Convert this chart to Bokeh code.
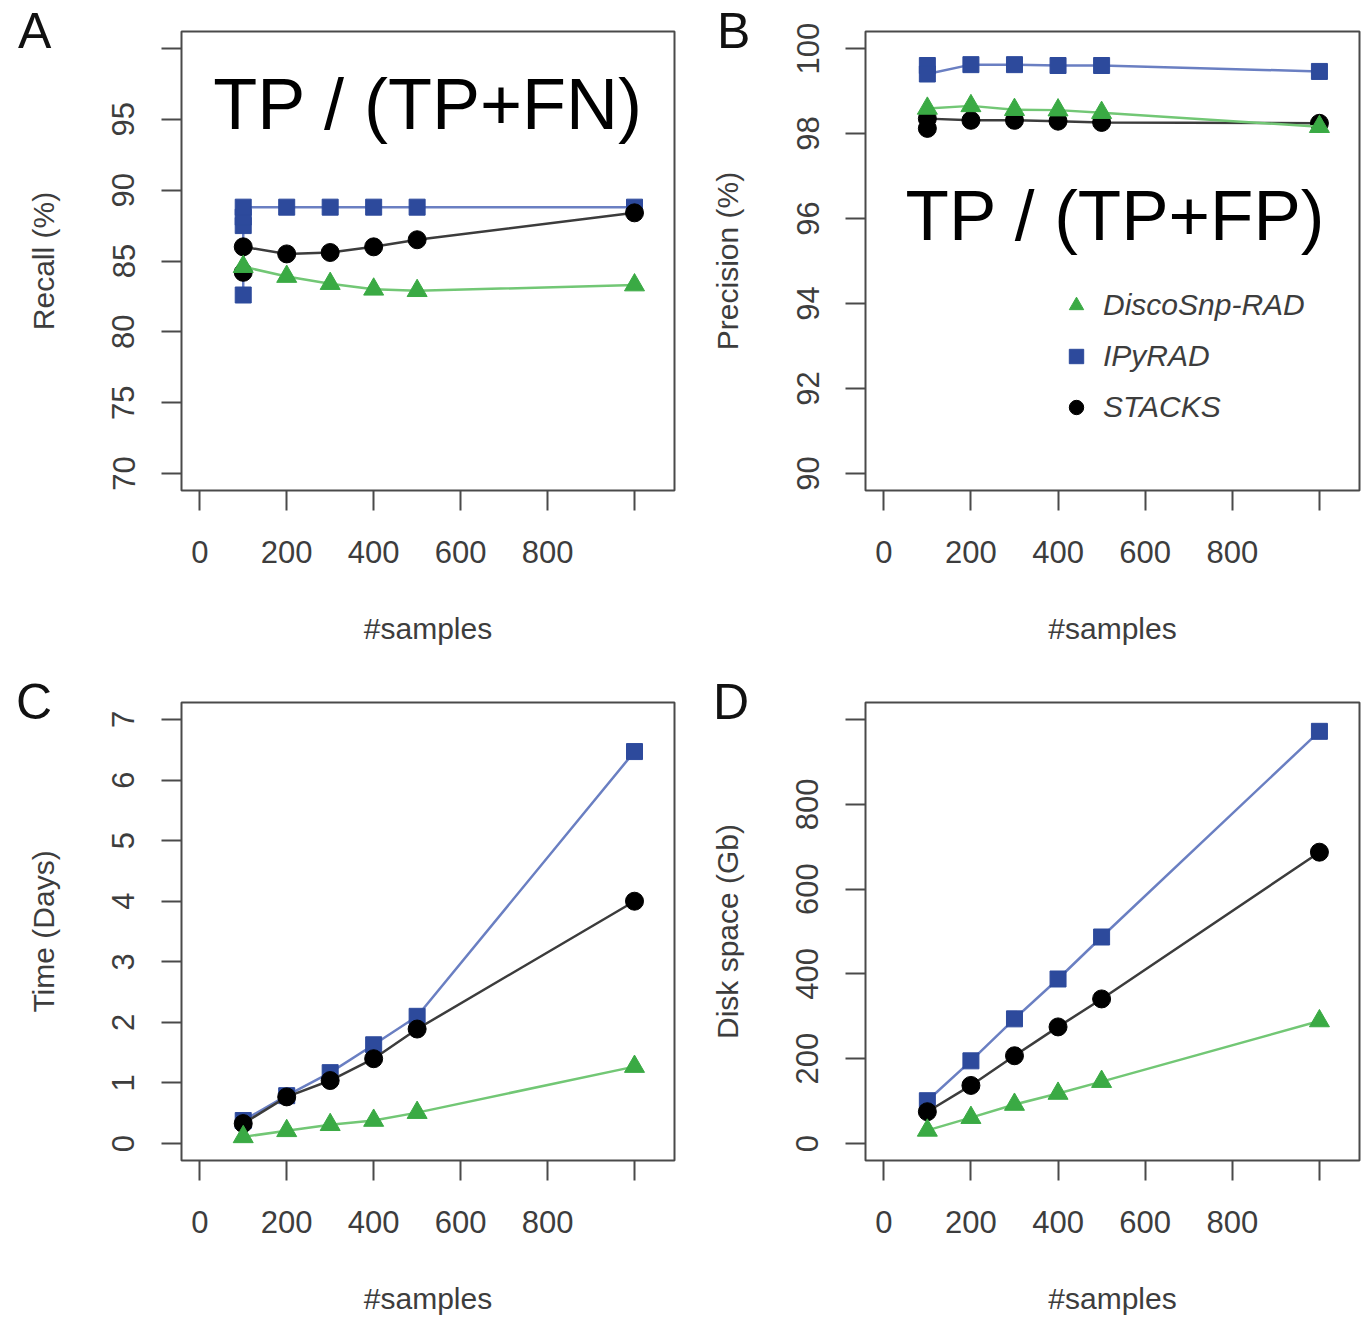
from bokeh.plotting import figure
from bokeh.layouts import column, row
from bokeh.models import FixedTicker, Range1d, Label, Legend, LegendItem, Div
from bokeh.embed import file_html
from bokeh.resources import INLINE

# ---------------- data ----------------
samples = [100, 200, 300, 400, 500, 1000]

# Recall (%)
recall_ipy_x = [100, 100, 100, 100, 200, 300, 400, 500, 1000]
recall_ipy_y = [82.6, 87.5, 88.1, 88.8, 88.8, 88.8, 88.8, 88.8, 88.8]
recall_stk_x = [100, 100, 200, 300, 400, 500, 1000]
recall_stk_y = [84.2, 86.0, 85.5, 85.6, 86.0, 86.5, 88.4]
recall_dsc_x = [100, 200, 300, 400, 500, 1000]
recall_dsc_y = [84.6, 83.9, 83.4, 83.0, 82.9, 83.3]

# Precision (%)
prec_ipy_x = [100, 100, 200, 300, 400, 500, 1000]
prec_ipy_y = [99.6, 99.4, 99.62, 99.62, 99.6, 99.6, 99.46]
prec_stk_x = [100, 100, 200, 300, 400, 500, 1000]
prec_stk_y = [98.12, 98.35, 98.31, 98.31, 98.29, 98.26, 98.24]
prec_dsc_x = [100, 200, 300, 400, 500, 1000]
prec_dsc_y = [98.59, 98.65, 98.56, 98.55, 98.49, 98.16]

# Time (Days)
time_ipy = [0.38, 0.79, 1.17, 1.63, 2.10, 6.47]
time_stk = [0.33, 0.77, 1.04, 1.40, 1.89, 4.00]
time_dsc = [0.11, 0.21, 0.31, 0.38, 0.51, 1.27]

# Disk space (Gb)
disk_ipy = [101, 195, 294, 388, 487, 972]
disk_stk = [75, 137, 207, 275, 341, 687]
disk_dsc = [31, 61, 92, 118, 146, 289]

x_ticks = [0, 200, 400, 600, 800, 1000]
recall_ticks = [70, 75, 80, 85, 90, 95, 100]
prec_ticks = [90, 92, 94, 96, 98, 100]
time_ticks = [0, 1, 2, 3, 4, 5, 6, 7]
disk_ticks = [0, 200, 400, 600, 800, 1000]

series_names = ["DiscoSnp-RAD", "IPyRAD", "STACKS"]
panel_letters = ["A", "B", "C", "D"]
formula_texts = ["TP / (TP+FN)", "TP / (TP+FP)"]

# ---------------- style ----------------
FONT = "Liberation Sans"
TXT = "#3d3d3d"
AX = "#4a4a4a"
BLUE, BLUE_L = "#2d4a9c", "#6a7fc2"
GREEN, GREEN_L = "#3aaa44", "#72c775"
BLACK, BLACK_L = "#000000", "#3c3c3c"


def make_panel(total_w, left, right, top, fh, bottom, ylo, yhi, yticks, ylabel,
               y_overrides=None):
    p = figure(frame_width=total_w - left - right, frame_height=fh,
               min_border_left=left, min_border_right=right,
               min_border_top=top, min_border_bottom=bottom,
               x_range=Range1d(-42, 1092), y_range=Range1d(ylo, yhi),
               output_backend="svg", toolbar_location=None, title=None)
    p.grid.visible = False
    p.outline_line_color = AX
    p.outline_line_width = 2
    p.background_fill_color = "white"
    p.border_fill_color = "white"
    for ax in (p.xaxis[0], p.yaxis[0]):
        ax.axis_line_color = None
        ax.major_tick_line_color = AX
        ax.major_tick_line_width = 2
        ax.major_tick_out = 20
        ax.major_tick_in = 0
        ax.minor_tick_line_color = None
        ax.major_label_text_font = FONT
        ax.major_label_text_font_size = "31px"
        ax.major_label_text_color = TXT
        ax.axis_label_text_font = FONT
        ax.axis_label_text_font_size = "30px"
        ax.axis_label_text_font_style = "normal"
        ax.axis_label_text_color = TXT
    p.xaxis[0].ticker = FixedTicker(ticks=x_ticks)
    p.xaxis[0].major_label_overrides = {1000: ""}
    p.xaxis[0].axis_label = "#samples"
    p.xaxis[0].major_label_standoff = 30
    p.xaxis[0].axis_label_standoff = 46
    p.yaxis[0].ticker = FixedTicker(ticks=yticks)
    if y_overrides:
        p.yaxis[0].major_label_overrides = y_overrides
    p.yaxis[0].major_label_orientation = "vertical"
    p.yaxis[0].axis_label = ylabel
    p.yaxis[0].major_label_standoff = 27
    p.yaxis[0].axis_label_standoff = 50
    return p


def draw_series(p, xi, yi, xs, ys, xd, yd):
    p.line(xi, yi, line_color=BLUE_L, line_width=2.5)
    ri = p.scatter(xi, yi, marker="square", size=16, fill_color=BLUE, line_color=BLUE)
    p.line(xs, ys, line_color=BLACK_L, line_width=2.5)
    rs = p.scatter(xs, ys, marker="circle", size=18, fill_color=BLACK, line_color=BLACK)
    p.line(xd, yd, line_color=GREEN_L, line_width=2.5)
    rd = p.scatter(xd, yd, marker="triangle", size=20, fill_color=GREEN, line_color=GREEN)
    return rd, ri, rs


def letter_div(letter, left, top):
    return Div(text=letter, width=60, height=60,
               styles={"position": "absolute", "left": f"{left}px",
                       "top": f"{top}px", "font-family": FONT,
                       "font-size": "50px", "line-height": "1",
                       "color": "#111111", "z-index": "10"})


# Panel A
pA = make_panel(683, 181, 9, 31, 459, 180, 68.8, 101.2, recall_ticks,
                "Recall (%)", {100: ""})
draw_series(pA, recall_ipy_x, recall_ipy_y, recall_stk_x, recall_stk_y,
            recall_dsc_x, recall_dsc_y)
pA.add_layout(Label(x=31, y=96.1, text=formula_texts[0], text_font=FONT,
                    text_font_size="72px", text_color="#000000",
                    text_baseline="alphabetic", text_align="left"))

# Panel B
pB = make_panel(684, 182, 8, 31, 459, 180, 89.6, 100.4, prec_ticks,
                "Precision (%)")
rd, ri, rs = draw_series(pB, prec_ipy_x, prec_ipy_y, prec_stk_x, prec_stk_y,
                         prec_dsc_x, prec_dsc_y)
pB.add_layout(Label(x=50, y=96.07, text=formula_texts[1], text_font=FONT,
                    text_font_size="71px", text_color="#000000",
                    text_baseline="alphabetic", text_align="left"))

legend = Legend(items=[LegendItem(label=series_names[0], renderers=[rd]),
                       LegendItem(label=series_names[1], renderers=[ri]),
                       LegendItem(label=series_names[2], renderers=[rs])],
                location=(193, 65), padding=0, margin=0, spacing=15,
                glyph_width=36, glyph_height=36, label_height=36,
                label_standoff=9, border_line_color=None,
                background_fill_alpha=0,
                label_text_font=FONT, label_text_font_size="30px",
                label_text_font_style="italic", label_text_color=TXT,
                label_text_baseline="middle")
pB.add_layout(legend)

# Panel C
pC = make_panel(683, 181, 9, 32, 458, 156, -0.28, 7.28, time_ticks, "Time (Days)")
draw_series(pC, samples, time_ipy, samples, time_stk, samples, time_dsc)

# Panel D
pD = make_panel(684, 182, 8, 32, 458, 156, -40, 1040, disk_ticks,
                "Disk space (Gb)", {1000: ""})
draw_series(pD, samples, disk_ipy, samples, disk_stk, samples, disk_dsc)

layout = column(row(pA, pB), row(pC, pD),
                letter_div(panel_letters[0], 13, 1),
                letter_div(panel_letters[1], 712, 1),
                letter_div(panel_letters[2], 11, 672),
                letter_div(panel_letters[3], 708, 672))
open("out.html", "w").write(file_html(layout, INLINE))
